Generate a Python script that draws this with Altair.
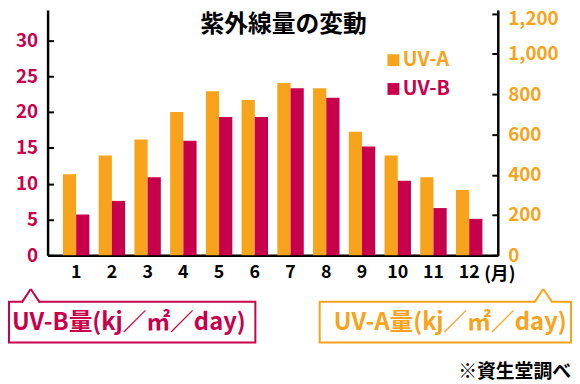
import altair as alt
import pandas as pd

# ---- data ----
MONTHS = [1, 2, 3, 4, 5, 6, 7, 8, 9, 10, 11, 12]
UVA = [403, 496, 575, 712, 815, 771, 856, 830, 614, 496, 388, 324]   # right axis
UVB = [5.7, 7.6, 10.9, 16.0, 19.3, 19.3, 23.3, 22.0, 15.2, 10.4, 6.6, 5.1]  # left axis
SERIES = ["UV-A", "UV-B"]
LEFT_TICKS = [0, 5, 10, 15, 20, 25, 30]
RIGHT_TICKS = [0, 200, 400, 600, 800, 1000, 1200]
TITLE = "紫外線量の変動"
UNIT_B = "UV-B量(kj／㎡／day)"
UNIT_A = "UV-A量(kj／㎡／day)"
MONTH_UNIT = "(月)"
SOURCE = "※資生堂調べ"

ORANGE = "#F7A31C"
CRIMSON = "#C8004C"
COLORS = [ORANGE, CRIMSON]
FONT = "Noto Sans CJK JP"

W, H = 455, 248

dfa = pd.DataFrame({"month": MONTHS, "value": UVA, "series": SERIES[0]})
dfb = pd.DataFrame({"month": MONTHS, "value": UVB, "series": SERIES[1]})

x = alt.X(
    "month:O", title=None,
    scale=alt.Scale(paddingInner=0.26, paddingOuter=0.43),
    axis=alt.Axis(labelAngle=0, ticks=False, grid=False, domainColor="black",
                  domainWidth=2.5, labelColor="black", labelFontSize=18,
                  labelFontWeight="bold", labelFont=FONT, labelPadding=8),
)
xoff = alt.XOffset("series:N", scale=alt.Scale(domain=SERIES, paddingInner=0, paddingOuter=0))
color = alt.Color("series:N", scale=alt.Scale(domain=SERIES, range=COLORS), legend=None)

def yaxis(orient, values, col, fmt, top_shift):
    return alt.Axis(orient=orient, values=values, format=fmt, title=None, ticks=False,
                    grid=True, gridColor="black", gridWidth=2, gridDash=[6, 2000],
                    domainColor="black", domainWidth=2.5, labelColor=col,
                    labelFontSize=19, labelFontWeight="bold", labelFont=FONT,
                    labelPadding=10,
                    labelOffset={"condition": {"test": f"datum.value == {values[-1]}",
                                               "value": top_shift}, "value": 0})

bars_a = alt.Chart(dfa).mark_bar().encode(
    x=x, xOffset=xoff, color=color,
    y=alt.Y("value:Q", scale=alt.Scale(domain=[0, 1218], nice=False),
            axis=yaxis("right", RIGHT_TICKS, ORANGE, ",d", 5)),
)
bars_b = alt.Chart(dfb).mark_bar().encode(
    x=x, xOffset=xoff, color=color,
    y=alt.Y("value:Q", scale=alt.Scale(domain=[0, 34.24], nice=False),
            axis=yaxis("left", LEFT_TICKS, CRIMSON, "d", 0)),
)

def one(t=""):
    return pd.DataFrame({"t": [t]})

def text(t, px, py, size, col, align="center"):
    return alt.Chart(one(t)).mark_text(
        font=FONT, fontWeight="bold", fontSize=size, color=col, align=align,
        baseline="middle").encode(x=alt.value(px), y=alt.value(py), text="t:N")

def rect(x1, x2, y1, y2, col):
    return alt.Chart(one()).mark_rect(fill="white", stroke=col, strokeWidth=2).encode(
        x=alt.value(x1), x2=alt.value(x2), y=alt.value(y1), y2=alt.value(y2))

def rule(x1, y1, x2, y2, col, w=2):
    return alt.Chart(one()).mark_rule(color=col, strokeWidth=w).encode(
        x=alt.value(x1), x2=alt.value(x2), y=alt.value(y1), y2=alt.value(y2))

def square(px, py, col):
    return alt.Chart(one()).mark_square(size=144, color=col, opacity=1).encode(
        x=alt.value(px), y=alt.value(py))

def callout(x1, x2, tip, col):
    return [
        rect(x1, x2, 295, 336, col),
        rule(tip - 8, 295, tip + 8, 295, "white", 3),
        rule(tip - 9, 295.5, tip, 282, col),
        rule(tip, 282, tip + 9, 295.5, col),
    ]

legend = []
for i, (s, c) in enumerate(zip(SERIES, COLORS)):
    legend += [square(349.5, 50.8 + 29 * i, c), text(s, 359, 50.5 + 29 * i, 20, c, "left")]

annots = (
    [text(TITLE, 238.5, 15, 24, "black"),
     text(MONTH_UNIT, 457, 268, 18, "black")]
    + legend
    + callout(-39, 210, -17, CRIMSON)
    + [text(UNIT_B, -36, 316, 24, CRIMSON, "left")]
    + callout(275, 529, 501, ORANGE)
    + [text(UNIT_A, 407, 316, 24, ORANGE),
       text(SOURCE, 529, 366, 19, "black", "right")]
)

chart = alt.layer(bars_a, bars_b, *annots).resolve_scale(y="independent").properties(
    width=W, height=H,
    autosize=alt.AutoSizeParams(type="none"),
    padding={"left": 40, "top": 0, "right": 75, "bottom": 126},
).configure_view(stroke=None)

chart.save("out.html", embed_options={"renderer": "svg", "actions": False})
